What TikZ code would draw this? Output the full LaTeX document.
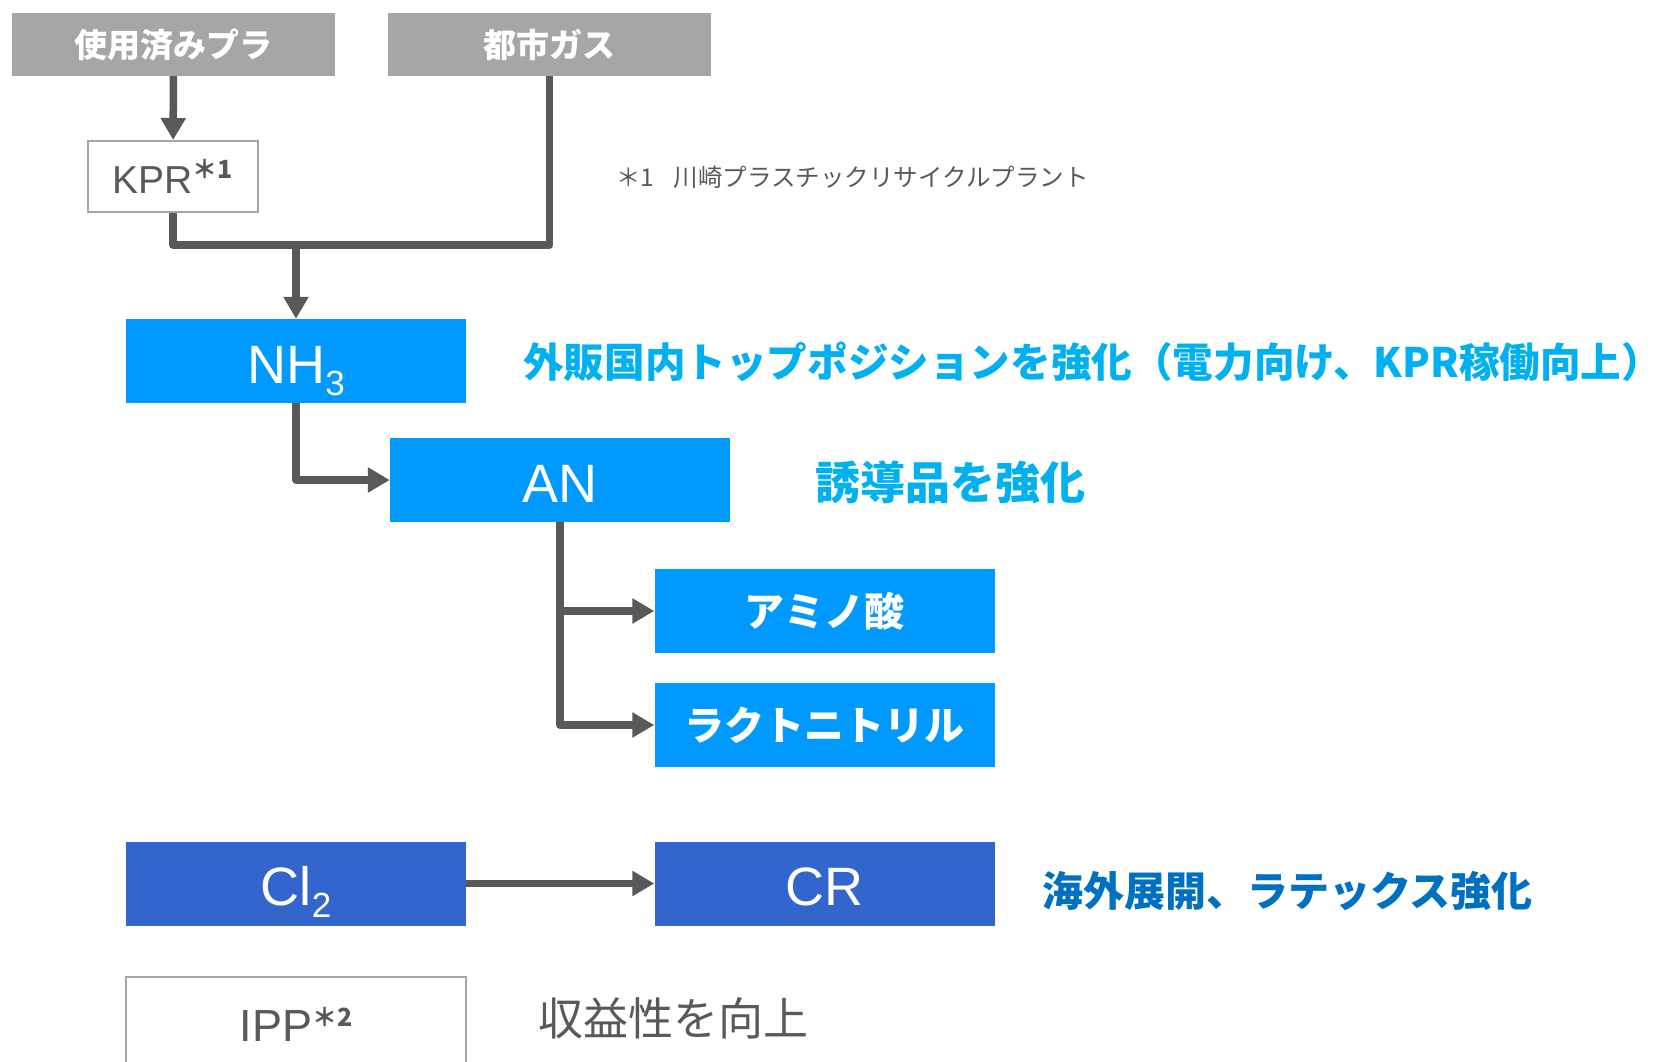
\documentclass[tikz,border=0pt]{standalone}
\usepackage{fontspec}
\usepackage{xcolor}
\usepackage{tikz}
\setmainfont{Liberation Sans}
\newfontfamily\jp{Noto Sans CJK JP}
\definecolor{srcgray}{HTML}{A6A6A6}
\definecolor{linegray}{HTML}{595959}
\definecolor{nhblue}{HTML}{0099FF}
\definecolor{clblue}{HTML}{3366CC}
\definecolor{cyantext}{HTML}{00B0F0}
\definecolor{darkbluetext}{HTML}{0070C0}
\usetikzlibrary{arrows.meta, positioning}
\newcommand{\lowsub}[1]{\raisebox{-12pt}[0pt][0pt]{\fontsize{35}{35}\selectfont #1}}
\newcommand{\notemark}[1]{\raisebox{15pt}{\jp\bfseries\fontsize{25}{25}\selectfont ＊#1}}

\begin{document}
\begin{tikzpicture}[
    x=1pt, y=-1pt,
    box/.style={rectangle, minimum width=340pt, minimum height=84pt, inner sep=0pt, text=white},
    formula/.style={box, text height=44pt, text depth=0pt, font=\fontsize{54}{60}\selectfont},
    jpbox/.style={box, font=\jp\bfseries\fontsize{40}{48}\selectfont},
    srcbox/.style={rectangle, fill=srcgray, minimum width=323pt, minimum height=63pt, inner sep=0pt, text=white, font=\jp\bfseries\fontsize{33}{40}\selectfont},
    plainbox/.style={rectangle, draw=srcgray, line width=2pt, fill=white, inner sep=0pt, text=linegray},
    note/.style={anchor=west, inner sep=0pt},
    link/.style={draw=linegray, line width=7.5pt, line join=round},
    flow/.style={link, -{Triangle[length=22pt, width=24pt]}},
]
    \useasboundingbox (0,0) rectangle (1671,1061);
    \clip (0,0) rectangle (1671,1061);

    % Raw materials
    \node[srcbox] (plastic) at (173.5,44.5) {使用済みプラ};
    \node[srcbox] (gas) at (549.5,44.5) {都市ガス};
    \node[plainbox, minimum width=170pt, minimum height=71pt, font=\fontsize{39}{42}\selectfont] (kpr) at (173,176.5) {KPR\notemark{1}};
    \coordinate (merge) at (296,245);

    % Ammonia chain
    \node[formula, fill=nhblue] (nh3) at (296,361) {NH\lowsub{3}};
    \node[formula, fill=nhblue] (an) at (560,480) {AN};
    \node[jpbox, fill=nhblue] (amino) at (824.5,611) {アミノ酸};
    \node[jpbox, fill=nhblue] (lacto) at (824.5,725) {ラクトニトリル};

    % Chlorine chain
    \node[formula, fill=clblue] (cl2) at (296,883.5) {Cl\lowsub{2}};
    \node[formula, fill=clblue] (cr) at (824.5,883.5) {CR};

    % IPP
    \node[plainbox, minimum width=340pt, minimum height=95pt, font=\fontsize{45}{48}\selectfont] (ipp) at (296,1024) {IPP\notemark{2}};

    % Connectors
    \draw[flow] (plastic) -- (kpr);
    \draw[link] (kpr.south) |- (merge) -| (gas.south);
    \draw[flow] (merge) -- (nh3.north);
    \draw[flow] (nh3.south) |- (an.west);
    \draw[flow] (an.south) |- (amino.west);
    \draw[flow] (an.south) |- (lacto.west);
    \draw[flow] (cl2) -- (cr);

    % Notes
    \node[note, text=linegray, font=\jp\fontsize{24.5}{30}\selectfont] (kprnote) at (616,177) {＊1\hspace{0.8em}川崎プラスチックリサイクルプラント};
    \node[note, text=cyantext, font=\jp\bfseries\fontsize{40.6}{48}\selectfont] (nh3note) at (523,362) {外販国内トップポジションを強化（電力向け、KPR稼働向上）};
    \node[note, text=cyantext, font=\jp\bfseries\fontsize{45}{50}\selectfont] (annote) at (815,482) {誘導品を強化};
    \node[note, text=darkbluetext, font=\jp\bfseries\fontsize{41}{48}\selectfont] (crnote) at (1042,891) {海外展開、ラテックス強化};
    \node[note, text=linegray, font=\jp\fontsize{45}{50}\selectfont] (ippnote) at (538,1018) {収益性を向上};

\end{tikzpicture}
\end{document}
